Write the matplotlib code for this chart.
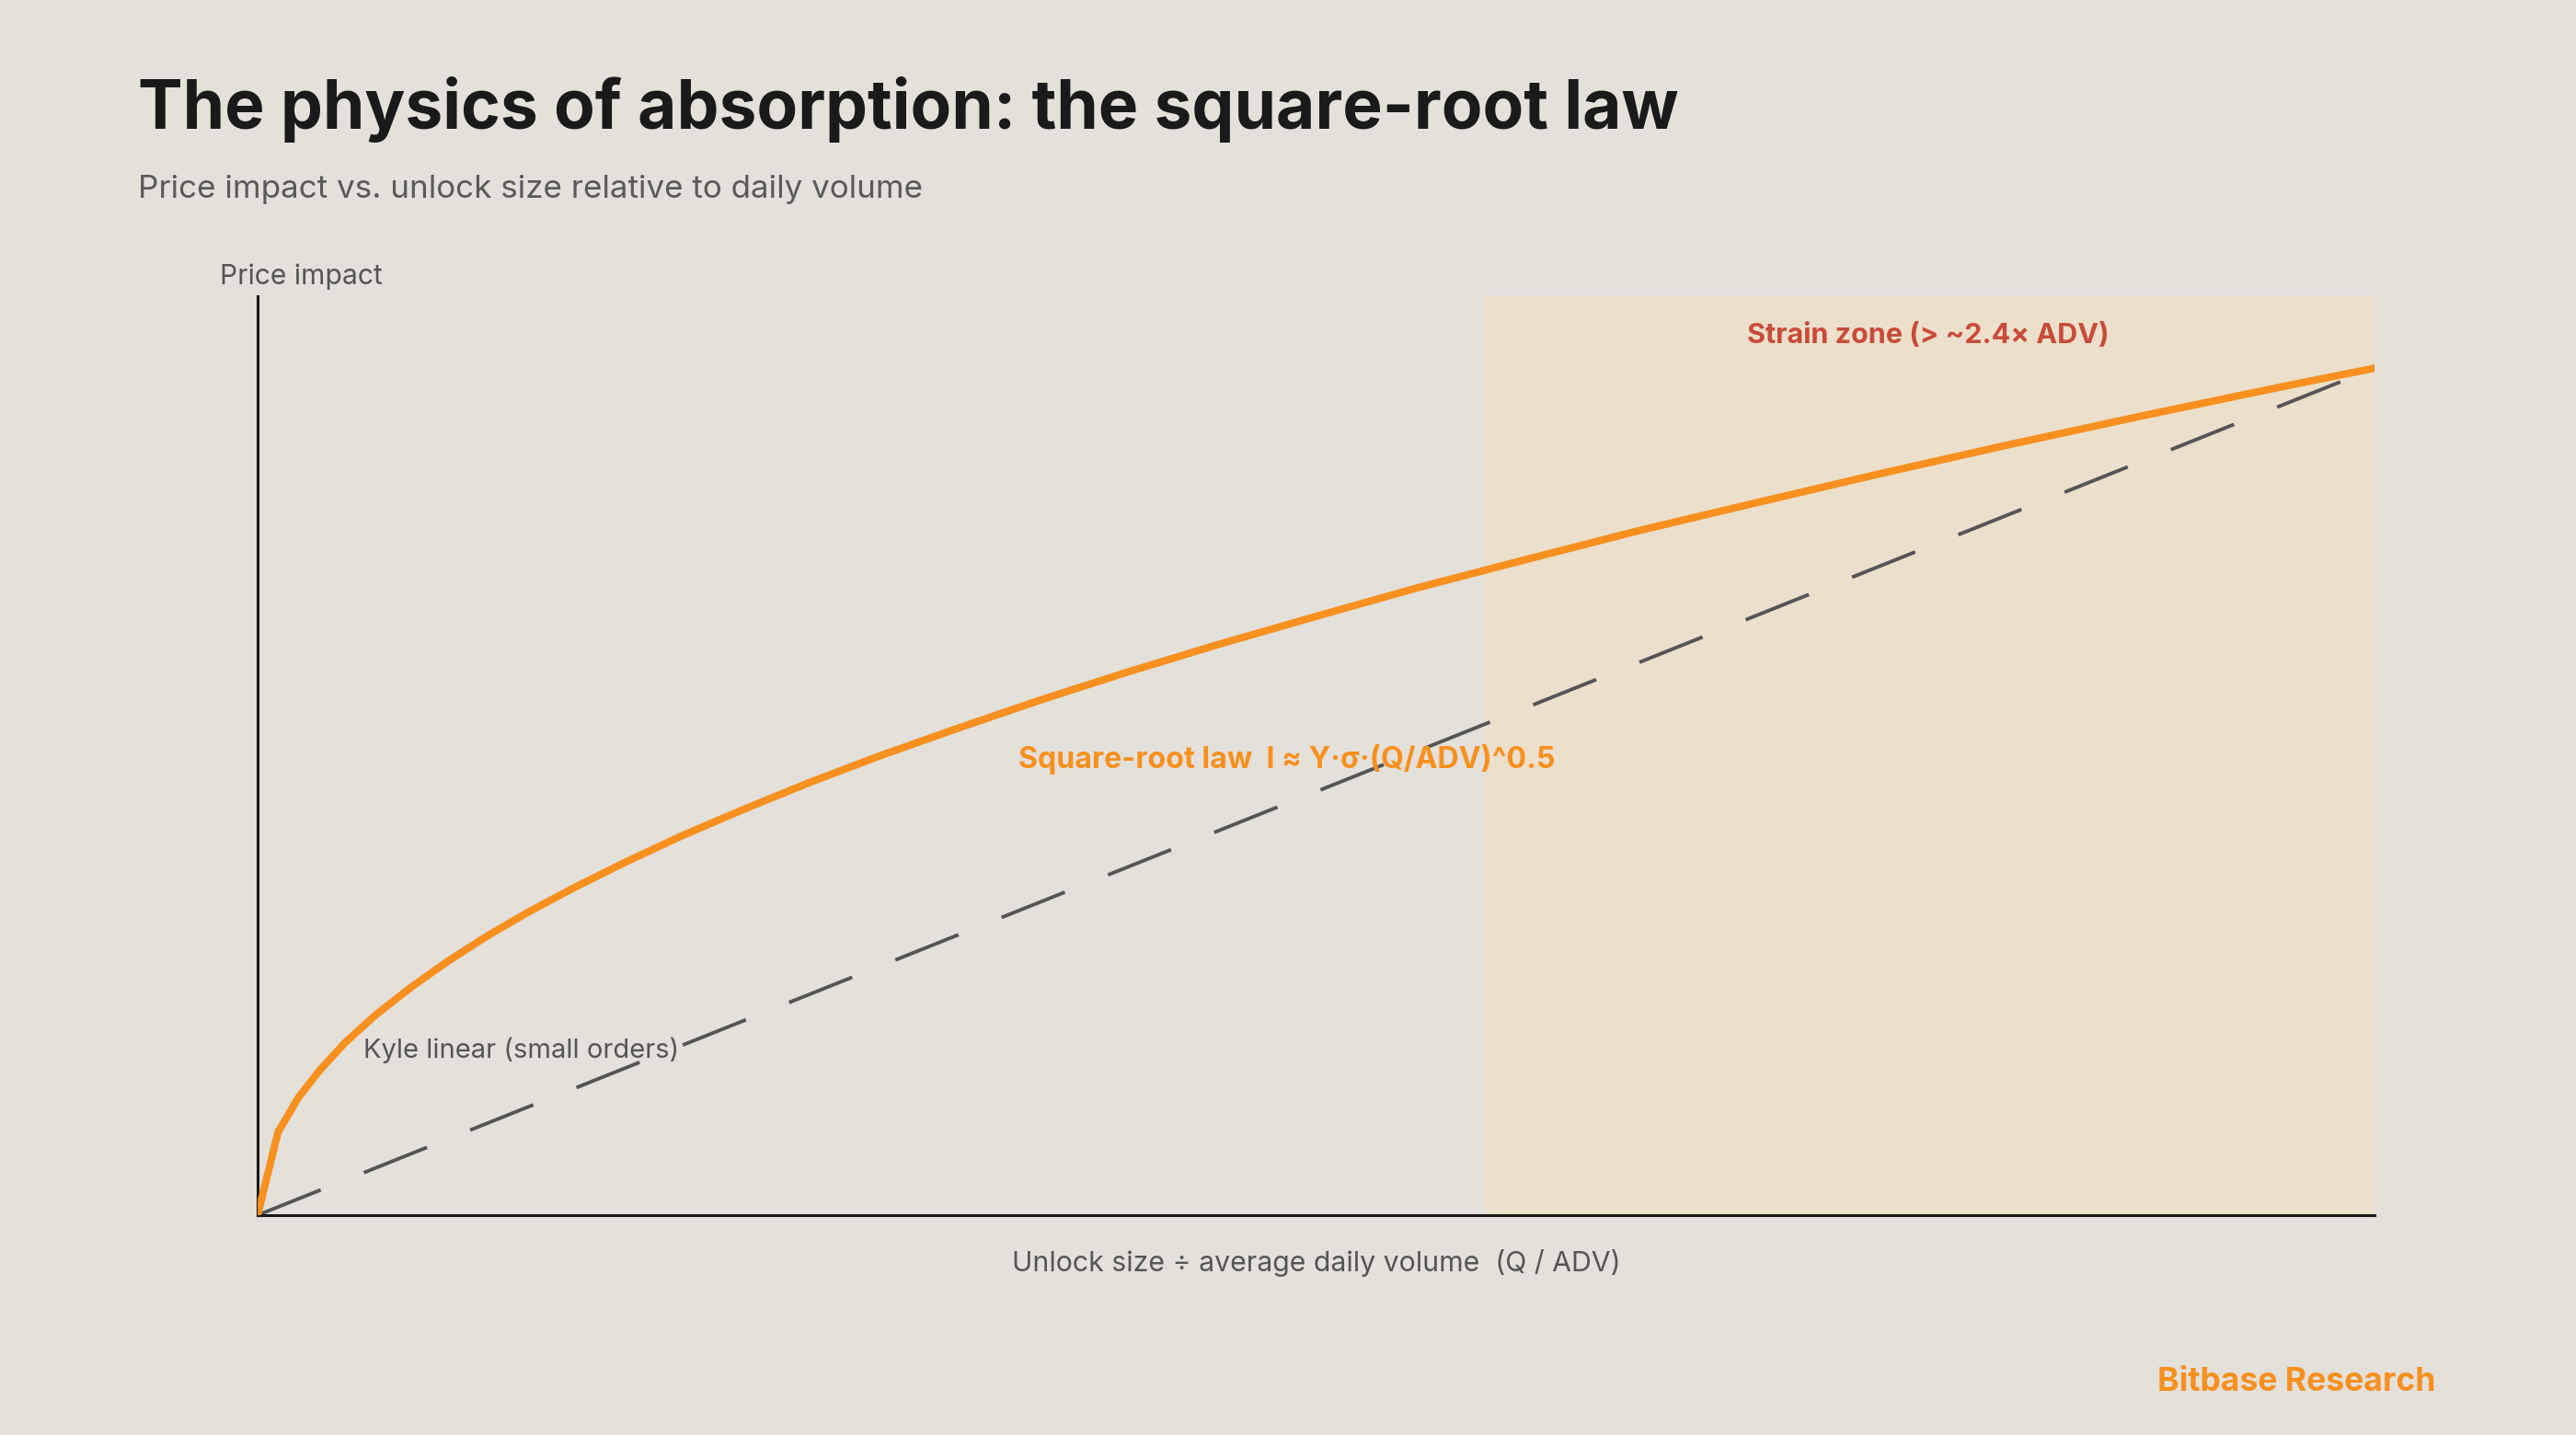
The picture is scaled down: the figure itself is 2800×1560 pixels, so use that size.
import matplotlib
matplotlib.use("Agg")
import matplotlib.pyplot as plt

plt.rcParams['font.family'] = ['Inter', 'DejaVu Sans']

# Q / ADV on the x axis, normalized price impact on the y axis
q_adv = [0.0, 0.04, 0.08, 0.12, 0.17, 0.23, 0.30, 0.37, 0.45, 0.53, 0.62,
         0.72, 0.83, 0.95, 1.08, 1.22, 1.37, 1.53, 1.70, 1.88, 2.07, 2.27,
         2.48, 2.70, 2.93, 3.17, 3.42, 3.68, 3.95, 4.14]
sqrt_impact = [0.0, 0.098, 0.139, 0.170, 0.203, 0.236, 0.269, 0.299, 0.330,
               0.358, 0.387, 0.417, 0.448, 0.479, 0.511, 0.543, 0.575,
               0.608, 0.641, 0.674, 0.707, 0.741, 0.774, 0.808, 0.841,
               0.875, 0.909, 0.943, 0.977, 1.0]
linear_q = [0.0, 4.14]
linear_impact = [0.0, 1.0]
strain_start = 2.4
q_max = 4.14

bg = '#E4E0DA'
orange = '#F7901E'

fig = plt.figure(figsize=(14, 7.8), dpi=200, facecolor=bg)
ax = fig.add_axes([0.1, 0.1532, 0.8218, 0.6404])
ax.set_facecolor(bg)

# strain zone shading
ax.axvspan(strain_start, q_max, color='#ECDFCB', zorder=0, lw=0)

ax.plot(linear_q, linear_impact, color='#555555', lw=1.4,
        linestyle=(0, (19, 13)), zorder=2)
ax.plot(q_adv, sqrt_impact, color=orange, lw=2.9, zorder=3,
        solid_joinstyle='round')

ax.set_xlim(0, q_max)
ax.set_ylim(0, 1.085)
ax.set_xticks([])
ax.set_yticks([])
for side in ['top', 'right']:
    ax.spines[side].set_visible(False)
for side in ['left', 'bottom']:
    ax.spines[side].set_color('#1A1A1A')
    ax.spines[side].set_linewidth(1.1)

# titles
fig.text(0.0536, 0.9103, 'The physics of absorption: the square-root law',
         fontsize=26.3, fontweight='bold', color='#1A1A1A', va='baseline')
fig.text(0.0536, 0.8622, 'Price impact vs. unlock size relative to daily volume',
         fontsize=12.6, color='#5A5A5A', va='baseline')

# axis labels
fig.text(0.0855, 0.8019, 'Price impact', fontsize=10.8, color='#555555',
         va='baseline')
fig.text(0.511, 0.1141, 'Unlock size \u00f7 average daily volume  (Q / ADV)',
         fontsize=10.9, color='#555555', va='baseline', ha='center')

# annotations
fig.text(0.7486, 0.7609, 'Strain zone (> ~2.4\u00d7 ADV)', fontsize=11,
         fontweight='bold', color='#C84B3A', va='baseline', ha='center')
fig.text(0.3953, 0.4647, 'Square-root law  I \u2248 Y\u00b7\u03c3\u00b7(Q/ADV)^0.5',
         fontsize=11.6, fontweight='bold', color=orange, va='baseline')
fig.text(0.141, 0.2628, 'Kyle linear (small orders)', fontsize=10.5,
         color='#555555', va='baseline')

fig.text(0.9457, 0.0308, 'Bitbase Research', fontsize=12.8, fontweight='bold',
         color=orange, va='baseline', ha='right')

fig.savefig('out.png', dpi=200, facecolor=bg)
